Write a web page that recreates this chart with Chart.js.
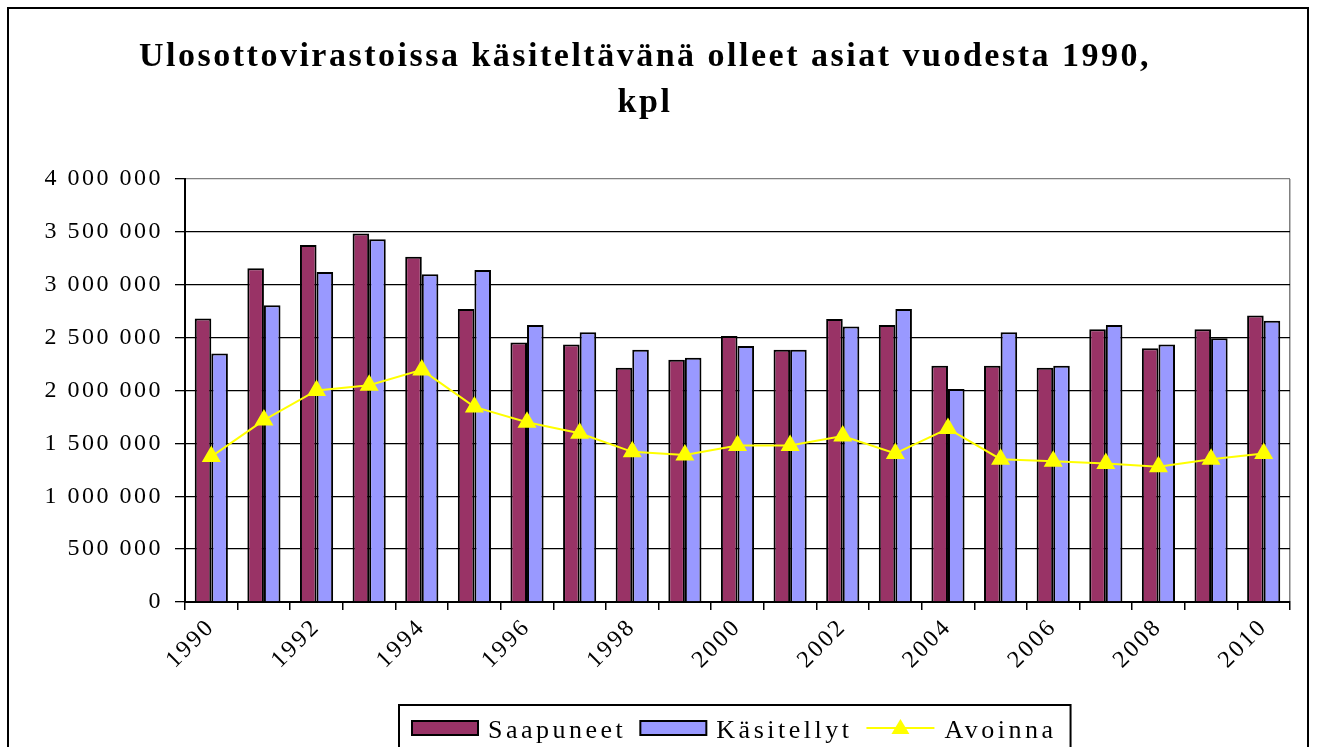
<!DOCTYPE html>
<html>
<head>
<meta charset="utf-8">
<script src="https://cdn.jsdelivr.net/npm/chart.js@4/dist/chart.umd.min.js"></script>
<style>
  html, body { margin: 0; padding: 0; background: #fff; overflow: hidden; }
  canvas { display: block; }
</style>
</head>
<body>
<canvas id="chart" width="1317" height="747"></canvas>
<script>
const years = ['1990', '1991', '1992', '1993', '1994', '1995', '1996', '1997', '1998', '1999', '2000',
  '2001', '2002', '2003', '2004', '2005', '2006', '2007', '2008', '2009', '2010'];
const saapuneet = [2680000, 3155000, 3375000, 3485000, 3265000, 2770000, 2455000, 2435000, 2215000, 2290000, 2515000,
  2385000, 2675000, 2620000, 2235000, 2235000, 2215000, 2580000, 2400000, 2580000, 2710000];
const kasitellyt = [2350000, 2805000, 3120000, 3430000, 3100000, 3140000, 2620000, 2550000, 2385000, 2310000, 2420000,
  2385000, 2605000, 2770000, 2015000, 2550000, 2235000, 2620000, 2435000, 2495000, 2660000];
const avoinna = [1375000, 1720000, 2000000, 2050000, 2195000, 1845000, 1700000, 1595000, 1420000, 1390000, 1480000,
  1480000, 1570000, 1405000, 1640000, 1350000, 1330000, 1310000, 1280000, 1350000, 1405000];
const titleLines = ['Ulosottovirastoissa käsiteltävänä olleet asiat vuodesta 1990,', 'kpl'];

const serif = "'Liberation Serif', 'Times New Roman', serif";
Chart.defaults.font.family = serif;
Chart.defaults.color = '#000';

const fmt = (v) => String(v).replace(/\B(?=(\d{3})+(?!\d))/g, ' ');

// outer frame + wider letter spacing like the Excel original
const frame = {
  id: 'frame',
  beforeDraw(chart) {
    const ctx = chart.ctx;
    ctx.save();
    ctx.strokeStyle = '#000';
    ctx.lineWidth = 2;
    ctx.strokeRect(8, 8, 1300, 800);
    ctx.restore();
    ctx.letterSpacing = '2.5px';
  },
};

// boxed legend with a line + triangle swatch for Avoinna
const boxLegend = {
  id: 'boxLegend',
  afterDraw(chart) {
    const ctx = chart.ctx;
    ctx.save();
    ctx.letterSpacing = '3.5px';
    ctx.font = '26px ' + serif;
    ctx.textBaseline = 'alphabetic';
    ctx.textAlign = 'left';
    const left = 399, top = 705;
    let x = left + 13;
    chart.data.datasets.forEach((ds) => {
      if (ds.type === 'line') {
        ctx.strokeStyle = ds.borderColor;
        ctx.lineWidth = 2;
        ctx.beginPath();
        ctx.moveTo(x, 728);
        ctx.lineTo(x + 68, 728);
        ctx.stroke();
        const cx = x + 34, cy = 729, r = 10;
        ctx.fillStyle = ds.pointBackgroundColor;
        ctx.beginPath();
        ctx.moveTo(cx, cy - r);
        ctx.lineTo(cx + r * 0.9, cy + r * 0.5);
        ctx.lineTo(cx - r * 0.9, cy + r * 0.5);
        ctx.closePath();
        ctx.fill();
        x += 78;
      } else {
        ctx.fillStyle = ds.backgroundColor;
        ctx.fillRect(x, 721, 66, 14);
        ctx.strokeStyle = '#000';
        ctx.lineWidth = 2;
        ctx.strokeRect(x, 721, 66, 14);
        x += 76;
      }
      ctx.fillStyle = '#000';
      ctx.fillText(ds.label, x, 738);
      x += ctx.measureText(ds.label).width + 14;
    });
    ctx.strokeStyle = '#000';
    ctx.lineWidth = 2;
    ctx.strokeRect(left, top, x - left, 80);
    ctx.restore();
  },
};

new Chart(document.getElementById('chart'), {
  type: 'bar',
  data: {
    labels: years,
    datasets: [
      {
        label: 'Saapuneet',
        data: saapuneet,
        backgroundColor: '#993366',
        borderColor: '#000',
        borderWidth: 2,
        order: 1,
      },
      {
        label: 'Käsitellyt',
        data: kasitellyt,
        backgroundColor: '#9999FF',
        borderColor: '#000',
        borderWidth: 2,
        order: 1,
      },
      {
        type: 'line',
        label: 'Avoinna',
        data: avoinna,
        borderColor: '#FFFF00',
        backgroundColor: '#FFFF00',
        pointBackgroundColor: '#FFFF00',
        pointBorderColor: '#FFFF00',
        pointStyle: 'triangle',
        pointRadius: 9,
        borderWidth: 2,
        tension: 0,
        order: 0,
      },
    ],
  },
  options: {
    responsive: false,
    animation: false,
    datasets: {
      bar: { categoryPercentage: 0.63, barPercentage: 1 },
    },
    layout: { padding: { left: 0, right: 27, top: 10, bottom: 65 } },
    plugins: {
      legend: { display: false },
      tooltip: { enabled: false },
      title: {
        display: true,
        text: titleLines,
        color: '#000',
        font: { family: serif, size: 34, weight: 'bold', lineHeight: 1.35 },
        padding: { top: 24, bottom: 53.2 },
      },
    },
    scales: {
      x: {
        grid: {
          drawOnChartArea: true,
          color: (c) => (c.tick ? 'rgba(0,0,0,0)' : '#808080'),
          tickColor: '#000',
          tickLength: 8,
          lineWidth: 1.5,
        },
        border: { color: '#000', width: 2 },
        ticks: {
          autoSkip: false,
          minRotation: 45,
          maxRotation: 45,
          padding: 3,
          font: { size: 24 },
          callback: (v, i) => (i % 2 === 0 ? years[i] : ''),
        },
        afterFit: (scale) => { scale.height = 80; },
      },
      y: {
        min: 0,
        max: 4000000,
        grid: {
          color: (c) => (c.tick && c.tick.value === 4000000 ? '#808080' : '#000'),
          tickColor: '#000',
          tickLength: 10,
          lineWidth: 1.3,
        },
        border: { color: '#000', width: 2 },
        ticks: {
          stepSize: 500000,
          padding: 12,
          font: { size: 24 },
          callback: (v) => fmt(v),
        },
        afterFit: (scale) => { scale.width = 185; },
      },
    },
  },
  plugins: [frame, boxLegend],
});
</script>
</body>
</html>
